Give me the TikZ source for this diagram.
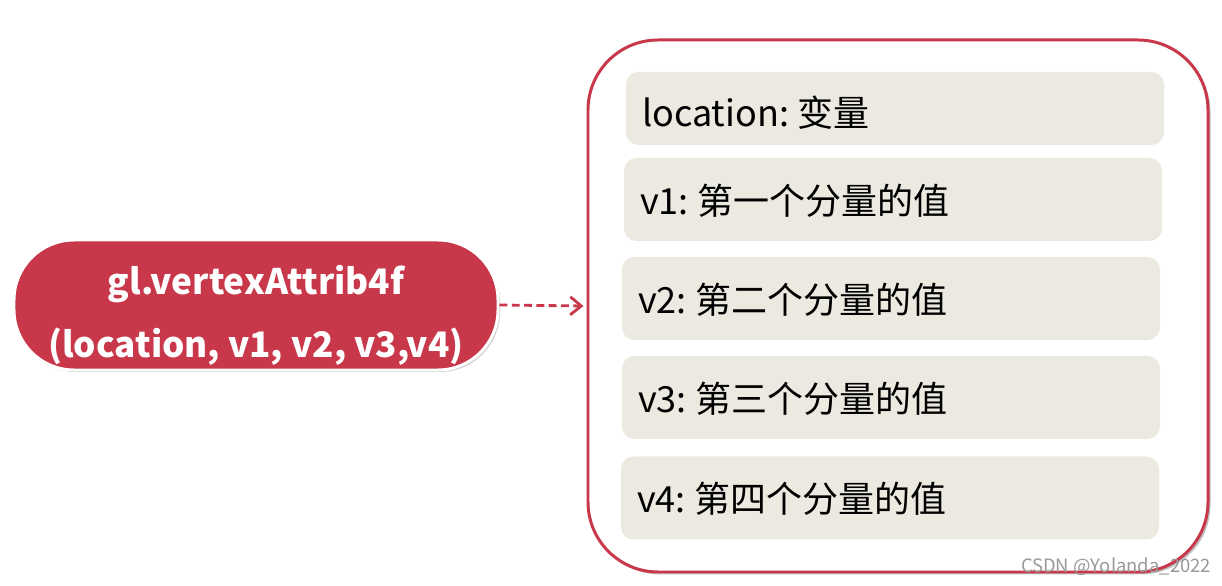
\documentclass[tikz,border=0pt]{standalone}
\usepackage{fontspec}
\setmainfont{Noto Sans CJK SC}
\usetikzlibrary{arrows.meta,positioning,shadows}
\definecolor{glred}{RGB}{200,56,74}
\definecolor{fieldgray}{RGB}{236,234,224}
\tikzset{
  frame/.style={draw=glred,line width=1.7pt,fill=white,rounded corners=1.4cm,minimum width=12.4cm,minimum height=10.64cm,drop shadow={shadow xshift=0.05,shadow yshift=-0.05,opacity=0.5}},
  field/.style={fill=fieldgray,rounded corners=0.25cm,minimum width=10.76cm,minimum height=1.66cm,text width=10.12cm,align=left,inner sep=0.32cm,text height=0.6cm,text depth=0cm,font=\fontsize{20.5}{24}\selectfont},
  call/.style={draw=white,line width=1.7pt,fill=glred,rounded corners=1.2cm,minimum width=9.68cm,minimum height=2.6cm,align=center,text=white,text height=2.12cm,text depth=0cm,font=\fontsize{20}{36}\selectfont\bfseries,drop shadow={shadow xshift=0.04,shadow yshift=-0.04,opacity=0.4}},
  link/.style={glred,line width=1.6pt,dash pattern=on 4.5pt off 2.5pt,-{Straight Barb[length=2.2mm,width=3.6mm]}},
}
\begin{document}
\begin{tikzpicture}
\useasboundingbox (0,0) rectangle (24.44,11.72);
\node[frame] (box) at (17.96,5.6) {};
\node[field,minimum height=1.46cm,text height=0.74cm] (loc) at (17.9,9.55) {location:\kern5pt 变量};
\node[field] (v1) at (17.86,7.73) {v1:\kern5pt 第一个分量的值};
\node[field] (v2) at (17.82,5.75) {v2:\kern5pt 第二个分量的值};
\node[field] (v3) at (17.82,3.77) {v3:\kern5pt 第三个分量的值};
\node[field] (v4) at (17.8,1.76) {v4:\kern5pt 第四个分量的值};
\node[call] (fn) at (5.12,5.62) {gl.vertexAttrib4f\\(location, v1, v2, v3,v4)};
\draw[link] (fn.east) -- ([xshift=-0.06cm]box.west);
\node[text=gray!80,font=\fontsize{10.5}{12}\selectfont] (mark) at (22.32,0.38) {CSDN @Yolanda\_2022};
\end{tikzpicture}
\end{document}
